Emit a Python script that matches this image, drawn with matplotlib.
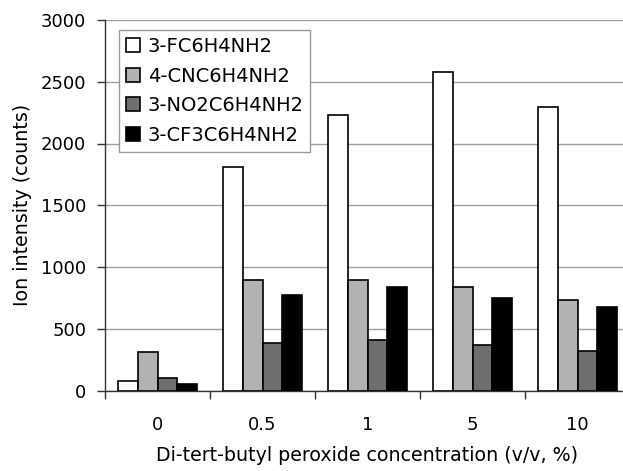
import numpy as np
import matplotlib
matplotlib.use("Agg")
import matplotlib.pyplot as plt

# ------------------------------- DATA ---------------------------------------
concentrations = ["0", "0.5", "1", "5", "10"]
series_names = ["3-FC6H4NH2", "4-CNC6H4NH2", "3-NO2C6H4NH2", "3-CF3C6H4NH2"]

fc_vals = [80, 1812, 2232, 2578, 2298]
cn_vals = [310, 895, 895, 842, 733]
no2_vals = [103, 384, 410, 370, 323]
cf3_vals = [53, 777, 842, 748, 674]

series_vals = [fc_vals, cn_vals, no2_vals, cf3_vals]
series_colors = ["#ffffff", "#b2b2b2", "#6e6e6e", "#000000"]

# ------------------------------- PLOT ---------------------------------------
plt.rcParams['font.family'] = ['DejaVu Sans']

fig = plt.figure(figsize=(6.23, 4.71), dpi=100)
ax = fig.add_axes([105/623, (471-390.5)/471, 525/623, 370.5/471])

x = np.arange(len(concentrations))
w = 0.186
for i, (vals, col, name) in enumerate(zip(series_vals, series_colors, series_names)):
    ax.bar(x + (i - 1.5) * w, vals, width=w, color=col, edgecolor="black",
           linewidth=1.2, label=name, zorder=3)

ax.set_xlim(-0.5, 4.5)
ax.set_ylim(0, 3000)
ax.set_yticks(np.arange(0, 3001, 500))
ax.yaxis.grid(True, color="#a0a0a0", linewidth=1.0, zorder=0)
ax.set_axisbelow(True)

# category ticks at the boundaries, labels at the centres
ax.set_xticks(np.arange(-0.5, 4.5, 1.0))
ax.set_xticklabels([])
ax.set_xticks(x, minor=True)
ax.set_xticklabels(concentrations, minor=True)
ax.tick_params(axis="x", which="major", direction="out", length=6, width=1.0,
               color="#333333")
ax.tick_params(axis="x", which="minor", length=0, pad=18.5, labelsize=13)
ax.tick_params(axis="y", direction="out", length=6, width=1.0, color="#333333",
               pad=7.5, labelsize=13)

for side in ["top", "right"]:
    ax.spines[side].set_visible(False)
for side in ["left", "bottom"]:
    ax.spines[side].set_color("#333333")
    ax.spines[side].set_linewidth(1.0)

ax.set_ylabel("Ion intensity (counts)", fontsize=13.7, labelpad=6)
ax.set_xlabel("Di-tert-butyl peroxide concentration (v/v, %)", fontsize=13.7,
              labelpad=8.5)

leg = ax.legend(loc="upper left", bbox_to_anchor=(0.0267, 0.973),
                borderaxespad=0, fontsize=14, fancybox=False,
                edgecolor="#999999", framealpha=1, handlelength=0.72,
                handleheight=0.72, handletextpad=0.4, labelspacing=0.55,
                borderpad=0.35)
leg.get_frame().set_linewidth(1.0)

fig.savefig("out.png", dpi=100)
plt.close(fig)
